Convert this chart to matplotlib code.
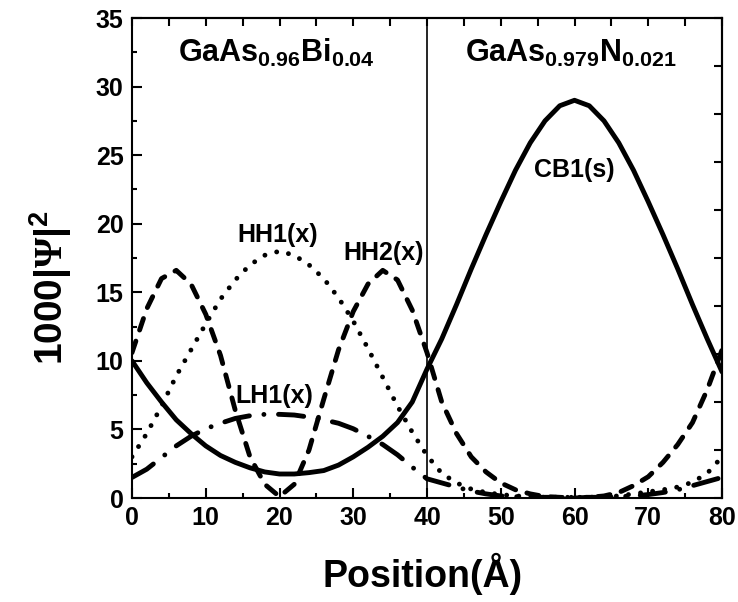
import numpy as np

import matplotlib
matplotlib.use('Agg')
import matplotlib.pyplot as plt


plt.rcParams['font.family'] = 'Liberation Sans'
plt.rcParams['font.weight'] = 'bold'
plt.rcParams['mathtext.fontset'] = 'custom'
plt.rcParams['mathtext.rm'] = 'Liberation Serif'
plt.rcParams['mathtext.bf'] = 'Liberation Sans:bold'
plt.rcParams['axes.linewidth'] = 1.5

# Position grid (Angstrom) and the squared envelope functions (x1000)
position = np.arange(0, 81, 2)

cb1_s = [10.0, 8.4, 7.0, 5.7, 4.7, 3.8, 3.1, 2.6, 2.2, 1.9, 1.75,
         1.75, 1.85, 2.0, 2.4, 3.0, 3.7, 4.5, 5.5, 7.0, 9.4,
         11.6, 14.1, 16.7, 19.2, 21.6, 23.9, 25.9, 27.5, 28.6, 29.0,
         28.6, 27.5, 25.9, 23.9, 21.6, 19.2, 16.7, 14.1, 11.6, 9.2]

hh1_x = [3.0, 4.7, 6.7, 8.9, 10.8, 12.7, 14.5, 15.9, 17.0, 17.7, 18.0,
         17.7, 17.0, 16.0, 14.6, 12.9, 10.9, 8.8, 6.7, 4.8, 3.1,
         1.8, 1.1, 0.65, 0.4, 0.25, 0.15, 0.1, 0.05, 0.05, 0.05,
         0.05, 0.1, 0.15, 0.3, 0.45, 0.6, 0.8, 1.15, 1.8, 3.0]

hh2_x = [10.6, 13.8, 16.0, 16.6, 15.6, 13.4, 10.4, 6.4, 3.0, 1.0, 0.1,
         1.0, 3.5, 7.2, 10.8, 13.6, 15.6, 16.6, 15.9, 13.7, 10.6,
         7.0, 4.7, 3.0, 1.9, 1.1, 0.6, 0.3, 0.1, 0.05, 0.0,
         0.05, 0.15, 0.4, 0.9, 1.55, 2.6, 3.9, 5.5, 7.9, 10.8]

lh1_x = [1.5, 2.1, 2.95, 3.8, 4.5, 5.05, 5.45, 5.8, 6.0, 6.1, 6.1,
         6.05, 5.9, 5.7, 5.45, 5.05, 4.5, 3.9, 3.15, 2.25, 1.4,
         1.1, 0.8, 0.5, 0.3, 0.15, 0.1, 0.05, 0.05, 0.05, 0.05,
         0.05, 0.05, 0.1, 0.15, 0.25, 0.4, 0.6, 0.9, 1.2, 1.5]


fig = plt.figure(figsize=(7.38, 6.02), dpi=100)
ax = fig.add_axes([132/738, 1 - 498/602, 590/738, 480/602])

lw = 3.5
ax.plot(position, hh1_x, color='k', lw=lw, linestyle=(0, (0.01, 2.5)),
        dash_capstyle='round')
ax.plot(position, hh2_x, color='k', lw=lw, linestyle=(0, (2.5, 2.4)),
        dash_capstyle='round')
ax.plot(position, lh1_x, color='k', lw=lw, linestyle=(0, (5.2, 3.0, 0.01, 3.0)),
        dash_capstyle='round')
ax.plot(position, cb1_s, color='k', lw=lw, solid_capstyle='round',
        solid_joinstyle='round')

# interface between the two layers
ax.axvline(40, color='k', lw=1.2)

ax.set_xlim(0, 80)
ax.set_ylim(0, 35)
ax.set_xticks(np.arange(0, 81, 10))
ax.set_xticks(np.arange(0, 81, 5), minor=True)
ax.set_yticks(np.arange(0, 36, 5))
ax.set_yticks(np.arange(0, 36, 2.5), minor=True)

ax.tick_params(axis='both', which='major', direction='in', length=7, width=1.5,
               labelsize=18, pad=6)
ax.tick_params(axis='both', which='minor', direction='in', length=3.8, width=1.5)
for lab in ax.get_xticklabels() + ax.get_yticklabels():
    lab.set_fontweight('bold')

top = ax.secondary_xaxis('top')
top.set_xticks(np.arange(0, 81, 5))
top.set_xticklabels([])
top.tick_params(direction='in', length=5.5, width=1.5)

right = ax.secondary_yaxis('right', functions=(lambda y: y / 3.5, lambda v: v * 3.5))
right.set_yticks(np.arange(0, 11, 1))
right.set_yticklabels([])
right.tick_params(direction='in', length=5.5, width=1.5)

# labels
ax.text(19.6, 31.8, r'GaAs$_{\mathbf{0.96}}$Bi$_{\mathbf{0.04}}$', ha='center',
        va='baseline', fontsize=22, fontweight='bold')
ax.text(59.5, 31.8, r'GaAs$_{\mathbf{0.979}}$N$_{\mathbf{0.021}}$', ha='center',
        va='baseline', fontsize=22, fontweight='bold')
ax.text(19.75, 18.7, 'HH1(x)', ha='center', va='baseline', fontsize=18, fontweight='bold')
ax.text(34.1, 17.35, 'HH2(x)', ha='center', va='baseline', fontsize=18, fontweight='bold')
ax.text(19.3, 6.9, 'LH1(x)', ha='center', va='baseline', fontsize=18, fontweight='bold')
ax.text(60.0, 23.4, 'CB1(s)', ha='center', va='baseline', fontsize=18, fontweight='bold')

ax.text(0.493, -0.1854, 'Position(Å)', transform=ax.transAxes, ha='center',
        va='baseline', fontsize=27, fontweight='bold')
ax.text(-0.138, 0.4385, r'1000$\mathbf{|}\mathrm{\Psi}\mathbf{|}^{\mathbf{2}}$',
        transform=ax.transAxes, rotation=90, ha='center', va='center',
        fontsize=28, fontweight='bold')

fig.savefig('out.png', dpi=100)
